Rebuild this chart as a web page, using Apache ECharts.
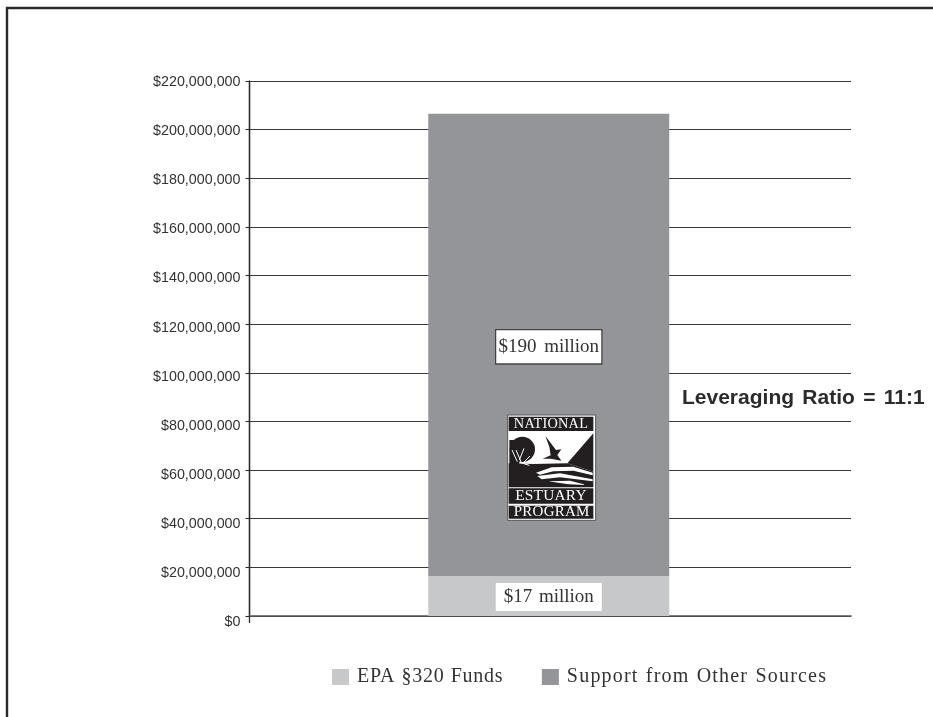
<!DOCTYPE html>
<html><head><meta charset="utf-8">
<style>html,body{margin:0;padding:0;background:#fff}#c{width:933px;height:717px}</style>
<script src="https://cdn.jsdelivr.net/npm/echarts@6/dist/echarts.min.js"></script>
</head><body><div id="c"></div>
<script>
const categories = ['Funding'];
const epaFunds = [16500000];
const otherSupport = [190000000];
const seriesNames = ['EPA §320 Funds', 'Support from Other Sources'];
const barLabels = ['$17 million', '$190 million'];
const ratioText = 'Leveraging Ratio = 11:1';
const logoWords = ['NATIONAL', 'ESTUARY', 'PROGRAM'];
const yMax = 220000000, yStep = 20000000;

const SERIF = '"Liberation Serif", serif', SANS = '"Liberation Sans", sans-serif';
const INK = '#2b2b2d', LIGHT = '#c7c8ca', DARK = '#939598';

// The reference is set with wide tracking; apply it at draw time only.
const tracking = {
  [seriesNames[0]]: ['0.75px','0.5px'],
  [seriesNames[1]]: ['1.2px','1px'],
  [barLabels[0]]: ['0px','2px'],
  [barLabels[1]]: ['0px','3px'],
  [ratioText]: ['0px','2.5px']
};
const origFill = CanvasRenderingContext2D.prototype.fillText;
CanvasRenderingContext2D.prototype.fillText = function (t, x, y, m) {
  const s = tracking[t];
  if (s && 'letterSpacing' in this) {
    const a = this.letterSpacing, b = this.wordSpacing;
    this.letterSpacing = s[0]; this.wordSpacing = s[1];
    const r = m === undefined ? origFill.call(this, t, x, y) : origFill.call(this, t, x, y, m);
    this.letterSpacing = a; this.wordSpacing = b;
    return r;
  }
  return m === undefined ? origFill.call(this, t, x, y) : origFill.call(this, t, x, y, m);
};

const LZ = 50;
function logoText(t, x, y, size) {
  return {type:'text', z:LZ+2, style:{text:t, x, y, fill:'#fff', font:size+'px '+SERIF, textAlign:'center', textVerticalAlign:'middle'}};
}
const B = '#231f20', W = '#fff';
function poly(points, fill) { return {type:'polygon', z:LZ+1, shape:{points}, style:{fill}}; }
function stroke(points) { return {type:'polyline', z:LZ+1, shape:{points}, style:{stroke:W,lineWidth:3,fill:'none'}}; }
const logo = {
  type:'group', x:480, y:400, scaleX:1/3, scaleY:1/3,
  children:[
    {type:'rect', z:LZ, shape:{x:83,y:45,width:264,height:316}, style:{fill:W,stroke:'#55565a',lineWidth:3}},
    {type:'rect', z:LZ, shape:{x:86,y:50,width:254,height:43}, style:{fill:B}},
    {type:'rect', z:LZ, shape:{x:86,y:265,width:254,height:46}, style:{fill:B}},
    {type:'rect', z:LZ, shape:{x:86,y:317,width:254,height:39}, style:{fill:B}},
    logoText(logoWords[0], 213, 74, 43),
    logoText(logoWords[1], 213, 289, 46),
    logoText(logoWords[2], 215, 337, 45),
    poly([[86,190],[160,192],[262,190],[340,215],[340,262],[86,262]], B),
    poly([[340,100],[340,215],[262,190]], B),
    {type:'circle', z:LZ+1, shape:{cx:127,cy:148,r:38}, style:{fill:B}},
    {type:'rect', z:LZ+1, shape:{x:88,y:120,width:30,height:90}, style:{fill:B}},
    stroke([[96,150],[112,185]]),
    stroke([[132,145],[118,180]]),
    stroke([[108,150],[125,190]]),
    stroke([[150,168],[128,190],[148,196]]),
    poly([[196,108],[228,150],[244,148],[232,165],[244,182],[212,176],[188,176],[212,166],[208,140]], B),
    poly([[168,218],[215,202],[280,200],[338,218],[338,226],[280,212],[220,214],[180,224]], W),
    poly([[172,228],[240,220],[338,238],[338,244],[240,232],[185,238]], W),
    poly([[205,244],[270,242],[320,255],[260,252]], W)
  ]
};

const chart = echarts.init(document.getElementById('c'), null, {renderer:'canvas'});
const money = v => '$' + Number(v).toLocaleString('en-US');
chart.setOption({
  animation:false,
  backgroundColor:'#fff',
  grid:[
    {left:249.5, right:82, top:81, bottom:101},
    {left:249.5, right:82, top:82, bottom:94.5},
    {left:249.5, right:85, top:81, bottom:101}
  ],
  xAxis:[
    {type:'category', gridIndex:0, data:categories,
     axisLine:{lineStyle:{color:'#555558',width:1.6}}, axisTick:{show:false}, axisLabel:{show:false}},
    {type:'category', gridIndex:1, data:categories, show:false},
    {type:'category', gridIndex:2, data:categories, show:false}
  ],
  yAxis:[
    {type:'value', gridIndex:0, min:0, max:yMax, interval:yStep,
     axisLine:{show:true,onZero:false,lineStyle:{color:INK,width:1.3}},
     axisTick:{show:true,length:4,lineStyle:{color:INK,width:1.1}},
     axisLabel:{show:false},
     splitLine:{show:true,lineStyle:{color:'#3a3a3c',width:1.1}}},
    {type:'value', gridIndex:1, min:0, max:yMax, interval:yStep,
     axisLine:{show:true,onZero:false,lineStyle:{color:INK,width:1.3}},
     axisTick:{show:false}, splitLine:{show:false},
     axisLabel:{show:true,margin:9,color:'#333',fontFamily:SANS,fontSize:14.3,formatter:money}},
    {type:'value', gridIndex:2, min:0, max:yMax, interval:yStep, show:false}
  ],
  legend:{
    left:332, top:667, padding:0, itemWidth:17, itemHeight:16, itemGap:50,
    data:seriesNames, icon:'rect',
    textStyle:{fontFamily:SERIF,fontSize:20,color:'#333',padding:[0,0,0,3]}
  },
  series:[
    {name:seriesNames[0], type:'bar', stack:'t', barWidth:241, xAxisIndex:2, yAxisIndex:2,
     data:epaFunds, itemStyle:{color:LIGHT},
     label:{show:true,position:'inside',offset:[0,1],formatter:()=>barLabels[0],
       fontFamily:SERIF,fontSize:19,color:'#333',backgroundColor:'#fff',
       width:106,height:28,lineHeight:28,align:'center',verticalAlign:'middle'}},
    {name:seriesNames[1], type:'bar', stack:'t', barWidth:241, xAxisIndex:2, yAxisIndex:2,
     data:otherSupport, itemStyle:{color:DARK},
     label:{show:true,position:'inside',offset:[0,2],formatter:()=>barLabels[1],
       fontFamily:SERIF,fontSize:19,color:'#333',backgroundColor:'#fff',
       borderColor:'#444',borderWidth:1.3,
       width:105,height:33,lineHeight:33,align:'center',verticalAlign:'middle'}}
  ],
  graphic:[
    {type:'polyline', silent:true, shape:{points:[[7,717],[7,8],[933,8]]}, style:{stroke:'#2a2a2c',lineWidth:2.4,fill:'none'}},
    {type:'text', silent:true, style:{text:ratioText, x:682, y:398, fill:'#2b2b2d', font:'bold 21px '+SANS, textVerticalAlign:'middle'}},
    logo
  ]
});
</script></body></html>
